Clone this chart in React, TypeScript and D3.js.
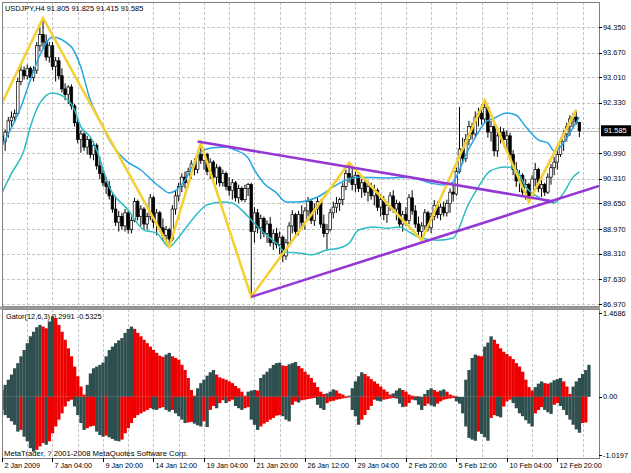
import { useEffect, useRef } from "react";
import * as d3 from "d3";

const chartTitle = "USDJPY,H4  91.805 91.825 91.415 91.585";
const gatorTitle = "Gator(12,6,3) 0.2991 -0.5325";
const copyright = "MetaTrader, ? 2001-2008 MetaQuotes Software Corp.";

// one label every 16 bars, starting at bar 0
const timeLabels = [
  "2 Jan 2009", "7 Jan 04:00", "9 Jan 20:00", "14 Jan 12:00", "19 Jan 04:00", "21 Jan 20:00",
  "26 Jan 12:00", "29 Jan 04:00", "2 Feb 20:00", "5 Feb 12:00", "10 Feb 04:00", "12 Feb 20:00",
];
const priceTicks = [94.35, 93.67, 93.01, 92.33, 91.65, 90.99, 90.31, 89.65, 88.97, 88.31, 87.63, 86.97];
const currentPrice = 91.585;
const gatorTicks = [1.4686, 0, -1.0197];

// H4 bars: [open, high, low, close]
const candles: number[][] = [
  [91.45, 91.72, 91.12, 91.30], [91.30, 91.62, 91.05, 91.55], [91.55, 91.95, 91.40, 91.85], [91.85, 92.10, 91.70, 91.95],
  [91.95, 92.15, 91.80, 92.05], [92.05, 93.00, 91.98, 92.90], [92.90, 93.35, 92.80, 93.20], [93.20, 93.30, 92.95, 93.05],
  [93.05, 93.35, 92.95, 93.25], [93.25, 93.30, 92.90, 93.00], [93.00, 93.30, 92.90, 93.20], [93.20, 93.95, 93.10, 93.85],
  [93.85, 94.35, 93.70, 94.15], [94.15, 94.59, 93.80, 93.95], [93.95, 94.15, 93.45, 93.55], [93.55, 93.95, 93.40, 93.85],
  [93.85, 93.95, 93.20, 93.30], [93.30, 93.55, 92.90, 93.45], [93.45, 93.55, 92.95, 93.05], [93.05, 93.25, 92.60, 92.70],
  [92.70, 92.85, 92.40, 92.55], [92.55, 92.80, 92.30, 92.75], [92.75, 92.82, 92.15, 92.25], [92.25, 92.30, 91.70, 91.80],
  [91.80, 91.90, 91.25, 91.35], [91.35, 91.60, 91.00, 91.50], [91.50, 91.55, 91.05, 91.15], [91.15, 91.45, 90.95, 91.35],
  [91.35, 91.40, 90.85, 90.95], [90.95, 91.30, 90.80, 91.20], [91.20, 91.25, 90.55, 90.65], [90.65, 90.90, 90.30, 90.45],
  [90.45, 90.55, 90.10, 90.20], [90.20, 90.35, 89.90, 90.10], [90.10, 90.25, 89.75, 89.85], [89.85, 89.95, 89.40, 89.50],
  [89.50, 89.80, 89.05, 89.15], [89.15, 89.45, 88.90, 89.30], [89.30, 89.40, 88.95, 89.05], [89.05, 89.50, 88.90, 89.40],
  [89.40, 89.45, 88.85, 88.95], [88.95, 89.30, 88.85, 89.20], [89.20, 89.80, 89.15, 89.70], [89.70, 89.75, 89.20, 89.30],
  [89.30, 89.60, 89.05, 89.50], [89.50, 89.55, 88.95, 89.10], [89.10, 89.40, 88.95, 89.30], [89.30, 89.90, 89.20, 89.80],
  [89.80, 89.85, 89.00, 89.15], [89.15, 89.50, 88.80, 89.40], [89.40, 89.45, 88.90, 89.00], [89.00, 89.25, 88.65, 88.80],
  [88.80, 89.05, 88.55, 88.95], [88.95, 89.00, 88.49, 88.70], [88.70, 89.60, 88.65, 89.50], [89.50, 90.00, 89.35, 89.85],
  [89.85, 90.20, 89.70, 90.10], [90.10, 90.45, 89.95, 90.35], [90.35, 90.50, 90.05, 90.20], [90.20, 90.60, 90.10, 90.50],
  [90.50, 90.80, 90.30, 90.70], [90.70, 90.85, 90.40, 90.55], [90.55, 91.05, 90.45, 90.95], [90.95, 91.26, 90.70, 90.80],
  [90.80, 91.10, 90.55, 90.95], [90.95, 91.00, 90.40, 90.50], [90.50, 90.85, 90.30, 90.75], [90.75, 90.80, 90.25, 90.35],
  [90.35, 90.70, 90.15, 90.60], [90.60, 90.65, 90.10, 90.20], [90.20, 90.55, 90.10, 90.45], [90.45, 90.50, 90.00, 90.10],
  [90.10, 90.35, 89.85, 90.00], [90.00, 90.30, 89.75, 90.20], [90.20, 90.25, 89.70, 89.80], [89.80, 90.15, 89.66, 90.05],
  [90.05, 90.10, 89.70, 89.75], [89.75, 90.15, 89.68, 90.05], [90.05, 90.20, 89.85, 90.15], [90.15, 90.20, 87.16, 88.90],
  [88.90, 89.55, 88.60, 89.40], [89.40, 89.50, 88.85, 89.00], [89.00, 89.35, 88.70, 89.25], [89.25, 89.30, 88.75, 88.85],
  [88.85, 89.20, 88.60, 89.10], [89.10, 89.29, 88.50, 88.60], [88.60, 88.95, 88.41, 88.85], [88.85, 89.00, 88.45, 88.55],
  [88.55, 88.90, 88.30, 88.75], [88.75, 88.80, 88.08, 88.25], [88.25, 88.70, 88.15, 88.60], [88.60, 89.15, 88.50, 89.05],
  [89.05, 89.47, 88.85, 89.35], [89.35, 89.40, 88.80, 88.90], [88.90, 89.45, 88.80, 89.35], [89.35, 89.60, 89.05, 89.15],
  [89.15, 89.55, 88.95, 89.45], [89.45, 89.82, 89.30, 89.70], [89.70, 89.75, 89.10, 89.20], [89.20, 89.65, 89.05, 89.50],
  [89.50, 89.80, 89.35, 89.70], [89.70, 89.75, 89.00, 89.10], [89.10, 89.35, 88.75, 88.85], [88.85, 89.10, 88.41, 88.95],
  [88.95, 89.50, 88.90, 89.40], [89.40, 89.70, 89.25, 89.55], [89.55, 89.82, 89.40, 89.65], [89.65, 89.80, 89.45, 89.75],
  [89.75, 90.20, 89.60, 90.10], [90.10, 90.55, 90.00, 90.45], [90.45, 90.73, 90.20, 90.35], [90.35, 90.60, 90.00, 90.15],
  [90.15, 90.50, 89.95, 90.40], [90.40, 90.45, 89.95, 90.05], [90.05, 90.30, 89.80, 90.20], [90.20, 90.35, 89.85, 89.95],
  [89.95, 90.25, 89.70, 90.10], [90.10, 90.20, 89.75, 89.85], [89.85, 90.15, 89.60, 90.00], [90.00, 90.05, 89.45, 89.55],
  [89.55, 89.90, 89.30, 89.75], [89.75, 89.85, 89.20, 89.35], [89.35, 89.70, 89.13, 89.60], [89.60, 89.95, 89.45, 89.85],
  [89.85, 90.00, 89.40, 89.50], [89.50, 89.75, 89.20, 89.65], [89.65, 89.70, 89.00, 89.10], [89.10, 89.45, 88.90, 89.35],
  [89.35, 89.55, 89.05, 89.20], [89.20, 89.90, 89.10, 89.80], [89.80, 90.00, 89.35, 89.45], [89.45, 89.60, 89.00, 89.10],
  [89.10, 89.30, 88.80, 88.90], [88.90, 89.15, 88.67, 89.05], [89.05, 89.50, 88.95, 89.40], [89.40, 89.45, 88.90, 89.00],
  [89.00, 89.40, 88.86, 89.30], [89.30, 89.74, 89.20, 89.60], [89.60, 89.70, 89.25, 89.35], [89.35, 89.65, 89.20, 89.55],
  [89.55, 89.70, 89.30, 89.40], [89.40, 89.75, 89.30, 89.65], [89.65, 90.05, 89.40, 89.95], [89.95, 90.15, 89.70, 89.90],
  [89.90, 90.60, 89.85, 90.50], [90.50, 92.22, 90.45, 91.10], [91.10, 91.40, 90.70, 90.85], [90.85, 91.50, 90.75, 91.35],
  [91.35, 91.85, 91.20, 91.70], [91.70, 91.80, 91.35, 91.50], [91.50, 92.10, 91.40, 91.95], [91.95, 92.20, 91.70, 92.05],
  [92.05, 92.30, 91.75, 91.90], [91.90, 92.40, 91.80, 92.20], [92.20, 92.25, 91.40, 91.55], [91.55, 91.85, 91.30, 91.70],
  [91.70, 91.75, 90.90, 91.05], [91.05, 91.60, 90.89, 91.45], [91.45, 91.69, 91.25, 91.55], [91.55, 91.65, 91.26, 91.35],
  [91.35, 91.60, 91.10, 91.45], [91.45, 91.53, 90.81, 90.95], [90.95, 91.07, 90.40, 90.55], [90.55, 90.75, 90.09, 90.25],
  [90.25, 90.54, 89.95, 90.40], [90.40, 90.45, 89.82, 89.95], [89.95, 90.30, 89.75, 90.15], [90.15, 90.20, 89.69, 89.85],
  [89.85, 90.40, 89.80, 90.30], [90.30, 90.73, 90.10, 90.55], [90.55, 90.60, 89.95, 90.05], [90.05, 90.27, 89.82, 90.15],
  [90.15, 90.20, 89.85, 89.95], [89.95, 90.45, 89.90, 90.35], [90.35, 90.70, 90.15, 90.60], [90.60, 90.89, 90.40, 90.75],
  [90.75, 91.05, 90.55, 90.95], [90.95, 91.40, 90.89, 91.30], [91.30, 91.60, 91.05, 91.50], [91.50, 91.80, 91.30, 91.70],
  [91.70, 92.00, 91.45, 91.90], [91.90, 92.06, 91.65, 91.95], [91.95, 92.14, 91.75, 91.805], [91.805, 91.825, 91.415, 91.585],
];

// smooth overlay lines, read as [bar, price]
const fastLine = [
  [0, 91.18], [1, 91.34], [6, 92.22], [9, 92.94], [12, 93.60], [16, 94.08], [22, 93.82], [25, 93.28],
  [28, 92.40], [31, 91.87], [34, 91.34], [39, 90.81], [44, 90.54], [50, 90.09], [53, 89.93], [58, 90.27],
  [61, 90.75], [63, 91.02], [67, 91.13], [71, 91.15], [74, 91.07], [78, 90.86], [80, 90.54], [83, 90.19],
  [87, 89.93], [90, 89.69], [94, 89.69], [100, 89.82], [105, 90.09], [109, 90.27], [113, 90.35], [122, 90.33],
  [129, 90.35], [136, 90.19], [140, 90.14], [143, 90.22], [145, 90.55], [147, 90.94], [149, 91.26], [151, 91.55],
  [153, 91.80], [156, 91.92], [160, 92.06], [163, 92.00], [166, 91.69], [170, 91.34], [173, 91.26], [175, 91.05],
  [178, 91.26], [180, 91.53], [183, 91.95],
];
const slowLine = [
  [0, 89.93], [3, 90.45], [7, 91.07], [9, 91.69], [12, 92.32], [16, 92.59], [21, 92.40], [23, 92.14],
  [25, 91.69], [28, 91.42], [30, 91.07], [34, 90.09], [40, 89.47], [45, 88.94], [49, 88.86], [53, 88.49],
  [56, 88.75], [61, 89.29], [65, 89.61], [70, 89.69], [73, 89.66], [76, 89.47], [79, 89.21], [82, 88.94],
  [87, 88.59], [90, 88.35], [94, 88.33], [98, 88.28], [103, 88.41], [107, 88.46], [110, 88.59], [113, 88.94],
  [118, 89.02], [122, 88.99], [126, 89.02], [129, 88.89], [132, 88.75], [138, 88.67], [143, 88.73], [145, 89.02],
  [147, 89.47], [151, 90.09], [154, 90.46], [157, 90.59], [160, 90.62], [163, 90.54], [166, 90.09], [170, 89.82],
  [173, 89.69], [175, 89.66], [178, 89.93], [181, 90.35], [183, 90.49],
];

// zigzag: an off-screen start, then swing highs / lows of the bars
const zigzagStart = [-4, 91.62];
const zigzagPivots: [number, string][] = [
  [13, "H"], [53, "L"], [63, "H"], [79, "L"], [110, "H"], [133, "L"], [153, "H"], [167, "L"], [182, "H"],
];

const trendUpper = [[62, 91.3], [175, 89.7]];
const trendLower = [[79, 87.16], [167, 89.52]];

const gatorUpper = [
  0.12, 0.21, 0.30, 0.39, 0.50, 0.59, 0.71, 0.82, 0.94, 1.06,
  1.14, 1.22, 1.26, 1.23, 1.20, 1.32, 1.41, 1.38, 1.26, 1.14,
  1.00, 0.85, 0.71, 0.53, 0.36, 0.18, 0.04, 0.21, 0.41, 0.50,
  0.53, 0.56, 0.60, 0.71, 0.82, 0.88, 0.94, 0.99, 1.03, 1.12,
  1.19, 1.23, 1.19, 1.12, 1.06, 1.00, 0.94, 0.88, 0.82, 0.77,
  0.72, 0.70, 0.74, 0.77, 0.71, 0.68, 0.65, 0.56, 0.47, 0.33,
  0.12, 0.02, 0.15, 0.24, 0.30, 0.37, 0.43, 0.47, 0.39, 0.34,
  0.32, 0.30, 0.27, 0.24, 0.19, 0.15, 0.09, 0.02, 0.09, 0.11,
  0.12, 0.11, 0.33, 0.39, 0.44, 0.50, 0.56, 0.59, 0.60, 0.55,
  0.54, 0.57, 0.59, 0.61, 0.54, 0.50, 0.44, 0.39, 0.33, 0.25,
  0.17, 0.09, 0.05, 0.06, 0.09, 0.13, 0.11, 0.06, 0.04, 0.01,
  0.02, 0.15, 0.27, 0.36, 0.43, 0.40, 0.36, 0.31, 0.27, 0.23,
  0.18, 0.13, 0.09, 0.04, 0.06, 0.11, 0.15, 0.12, 0.09, 0.04,
  0.02, 0.01, 0.01, 0.00, 0.05, 0.12, 0.15, 0.12, 0.09, 0.11,
  0.13, 0.09, 0.04, 0.02, 0.01, 0.00, 0.00, 0.30, 0.47, 0.68,
  0.74, 0.72, 0.71, 0.88, 0.95, 1.06, 1.00, 0.93, 0.85, 0.79,
  0.75, 0.71, 0.66, 0.59, 0.53, 0.44, 0.30, 0.17, 0.11, 0.17,
  0.23, 0.27, 0.24, 0.23, 0.25, 0.29, 0.31, 0.33, 0.27, 0.18,
  0.05, 0.18, 0.27, 0.33, 0.40, 0.47, 0.56,
];
const gatorLower = [
  -0.23, -0.32, -0.37, -0.43, -0.49, -0.61, -0.58, -0.70, -0.78, -0.90,
  -0.96, -0.93, -0.87, -0.81, -0.84, -0.78, -0.64, -0.52, -0.40, -0.29,
  -0.17, -0.08, -0.05, -0.17, -0.32, -0.46, -0.58, -0.55, -0.52, -0.51,
  -0.61, -0.67, -0.70, -0.68, -0.71, -0.74, -0.77, -0.78, -0.75, -0.64,
  -0.55, -0.46, -0.37, -0.32, -0.29, -0.26, -0.23, -0.20, -0.22, -0.23,
  -0.20, -0.18, -0.23, -0.26, -0.23, -0.29, -0.34, -0.40, -0.46, -0.45,
  -0.44, -0.47, -0.50, -0.52, -0.43, -0.53, -0.23, -0.16, -0.20, -0.11,
  -0.06, -0.11, -0.08, -0.05, -0.16, -0.20, -0.23, -0.20, -0.18, -0.40,
  -0.49, -0.58, -0.52, -0.47, -0.44, -0.40, -0.37, -0.33, -0.32, -0.34,
  -0.40, -0.43, -0.14, -0.08, -0.10, -0.06, -0.05, -0.04, -0.03, -0.02,
  -0.14, -0.20, -0.23, -0.11, -0.08, -0.07, -0.05, -0.04, -0.03, -0.02,
  -0.01, -0.23, -0.34, -0.49, -0.40, -0.32, -0.23, -0.16, -0.05, -0.07,
  -0.08, -0.05, -0.04, -0.03, -0.02, -0.03, -0.12, -0.18, -0.17, -0.11,
  -0.05, -0.06, -0.14, -0.23, -0.16, -0.12, -0.15, -0.17, -0.12, -0.08,
  -0.05, -0.04, -0.03, -0.02, -0.08, -0.12, -0.29, -0.52, -0.72, -0.75,
  -0.77, -0.61, -0.65, -0.71, -0.77, -0.37, -0.32, -0.34, -0.36, -0.17,
  -0.08, -0.05, -0.11, -0.20, -0.29, -0.34, -0.41, -0.47, -0.52, -0.29,
  -0.23, -0.18, -0.23, -0.27, -0.30, -0.14, -0.11, -0.16, -0.23, -0.32,
  -0.40, -0.49, -0.57, -0.63, -0.46, -0.45,
];

const W = 631;
const H = 473;
const FONT = "'Liberation Sans', Arial, sans-serif";

export default function App() {
  const svgRef = useRef<SVGSVGElement>(null);

  useEffect(() => {
    if (!svgRef.current) return;
    const svg = d3.select(svgRef.current);
    svg.selectAll("*").remove();

    const left = 2, right = 599;
    const mainTop = 2, mainBottom = 306;
    const gatorTop = 309, gatorBottom = 458;

    // scales
    const x = d3.scaleLinear().domain([0, 176]).range([2, 557.3]);
    const y = d3.scaleLinear().domain([86.97, 94.35]).range([304, 27]);
    const yg = d3.scaleLinear().domain([-1.0197, 1.4686]).range([455, 313]);
    const step = x(1) - x(0);

    svg.append("rect").attr("width", W).attr("height", H).attr("fill", "#fff");

    const defs = svg.append("defs");
    defs.append("clipPath").attr("id", "clip-main").append("rect")
      .attr("x", left).attr("y", mainTop).attr("width", right - left).attr("height", mainBottom - mainTop);
    defs.append("clipPath").attr("id", "clip-gator").append("rect")
      .attr("x", left).attr("y", gatorTop).attr("width", right - left).attr("height", gatorBottom - gatorTop);

    // grid
    const grid = svg.append("g").attr("stroke", "#c4c4c4").attr("stroke-dasharray", "3,2").attr("stroke-width", 1);
    d3.range(8, 185, 8).forEach(b => {
      const gx = Math.round(x(b)) + 0.5;
      grid.append("line").attr("x1", gx).attr("x2", gx).attr("y1", mainTop).attr("y2", mainBottom);
      grid.append("line").attr("x1", gx).attr("x2", gx).attr("y1", gatorTop).attr("y2", gatorBottom);
    });
    priceTicks.forEach(t => {
      const gy = Math.round(y(t)) + 0.5;
      grid.append("line").attr("x1", left).attr("x2", right).attr("y1", gy).attr("y2", gy);
    });

    // current price line
    svg.append("line")
      .attr("x1", left).attr("x2", right)
      .attr("y1", Math.round(y(currentPrice)) + 0.5).attr("y2", Math.round(y(currentPrice)) + 0.5)
      .attr("stroke", "#b8b8b8").attr("stroke-width", 1);

    const main = svg.append("g").attr("clip-path", "url(#clip-main)");

    svg.append("text")
      .attr("x", 5).attr("y", 11)
      .attr("font-family", FONT).attr("font-size", 7.4).attr("fill", "#000")
      .text(chartTitle);

    // candles
    const bars = main.append("g");
    candles.forEach(([o, h, l, c], i) => {
      const cx = x(i);
      bars.append("line")
        .attr("x1", cx).attr("x2", cx).attr("y1", y(h)).attr("y2", y(l))
        .attr("stroke", "#000").attr("stroke-width", 1);
      const top = y(Math.max(o, c));
      const bh = Math.max(0.8, Math.abs(y(o) - y(c)));
      bars.append("rect")
        .attr("x", cx - 1.3).attr("y", top).attr("width", 2.6).attr("height", bh)
        .attr("fill", c >= o ? "#fff" : "#000")
        .attr("stroke", "#000").attr("stroke-width", 0.7);
    });

    // overlay lines
    const overlay = d3.line<number[]>()
      .x(d => x(d[0]))
      .y(d => y(d[1]))
      .curve(d3.curveMonotoneX);
    main.append("path").datum(slowLine).attr("d", overlay)
      .attr("fill", "none").attr("stroke", "#2cbcc4").attr("stroke-width", 1.5);
    main.append("path").datum(fastLine).attr("d", overlay)
      .attr("fill", "none").attr("stroke", "#25a6e2").attr("stroke-width", 1.5);

    // zigzag
    const zz = [zigzagStart, ...zigzagPivots.map(([i, t]) => [i, t === "H" ? candles[i][1] : candles[i][2]])];
    main.append("path").datum(zz)
      .attr("d", d3.line<number[]>().x(d => x(d[0])).y(d => y(d[1])))
      .attr("fill", "none").attr("stroke", "#f5d034").attr("stroke-width", 2.6)
      .attr("stroke-linejoin", "miter");

    // trend lines
    main.append("line")
      .attr("x1", x(trendUpper[0][0])).attr("y1", y(trendUpper[0][1]))
      .attr("x2", x(trendUpper[1][0])).attr("y2", y(trendUpper[1][1]))
      .attr("stroke", "#9437d4").attr("stroke-width", 2.6);
    const slope = (trendLower[1][1] - trendLower[0][1]) / (trendLower[1][0] - trendLower[0][0]);
    const endBar = x.invert(right);
    main.append("line")
      .attr("x1", x(trendLower[0][0])).attr("y1", y(trendLower[0][1]))
      .attr("x2", x(endBar)).attr("y2", y(trendLower[0][1] + slope * (endBar - trendLower[0][0])))
      .attr("stroke", "#9437d4").attr("stroke-width", 2.6);

    // gator pane
    svg.append("text")
      .attr("x", 6).attr("y", 319)
      .attr("font-family", FONT).attr("font-size", 7.4).attr("fill", "#000")
      .text(gatorTitle);

    const gator = svg.append("g").attr("clip-path", "url(#clip-gator)");
    const dark = "#2f4f4f", red = "#ee0000";
    const y0 = yg(0);
    gatorUpper.forEach((v, i) => {
      const up = i === 0 || v > gatorUpper[i - 1];
      gator.append("rect")
        .attr("x", x(i) - step / 2).attr("width", step + 0.15)
        .attr("y", yg(v)).attr("height", y0 - yg(v))
        .attr("fill", up ? dark : red);
    });
    gatorLower.forEach((v, i) => {
      const up = i === 0 || Math.abs(v) > Math.abs(gatorLower[i - 1]);
      gator.append("rect")
        .attr("x", x(i) - step / 2).attr("width", step + 0.15)
        .attr("y", y0).attr("height", yg(v) - y0)
        .attr("fill", up ? dark : red);
    });

    svg.append("text")
      .attr("x", 4).attr("y", 456)
      .attr("font-family", FONT).attr("font-size", 7.7).attr("fill", "#000")
      .text(copyright);

    // frames
    svg.append("rect").attr("x", left + 0.5).attr("y", mainTop + 0.5)
      .attr("width", right - left).attr("height", mainBottom - mainTop)
      .attr("fill", "none").attr("stroke", "#808080");
    svg.append("rect").attr("x", left + 0.5).attr("y", gatorTop + 0.5)
      .attr("width", right - left).attr("height", gatorBottom - gatorTop)
      .attr("fill", "none").attr("stroke", "#808080");
    svg.append("rect").attr("x", 0).attr("y", mainBottom + 0.5).attr("width", right + 1).attr("height", gatorTop - mainBottom)
      .attr("fill", "#9a9a9a");

    // price axis
    const axis = svg.append("g").attr("font-family", FONT).attr("font-size", 7.4).attr("fill", "#000");
    priceTicks
      .filter(t => Math.abs(y(t) - y(currentPrice)) > 8)
      .forEach(t => {
        axis.append("line").attr("x1", right).attr("x2", right + 3)
          .attr("y1", Math.round(y(t)) + 0.5).attr("y2", Math.round(y(t)) + 0.5).attr("stroke", "#000");
        axis.append("text").attr("x", 603).attr("y", y(t)).attr("dy", "0.35em").text(t.toFixed(3));
      });
    gatorTicks.forEach(t => {
      axis.append("line").attr("x1", right).attr("x2", right + 3)
        .attr("y1", Math.round(yg(t)) + 0.5).attr("y2", Math.round(yg(t)) + 0.5).attr("stroke", "#000");
      axis.append("text").attr("x", 603).attr("y", yg(t)).attr("dy", "0.35em")
        .text(t === 0 ? "0.00" : t.toFixed(4));
    });

    // current price tag
    const cy = y(currentPrice);
    svg.append("rect").attr("x", 601).attr("y", cy - 5.5).attr("width", 30).attr("height", 11).attr("fill", "#000");
    svg.append("text").attr("x", 604).attr("y", cy).attr("dy", "0.35em")
      .attr("font-family", FONT).attr("font-size", 7.4).attr("fill", "#fff")
      .text(currentPrice.toFixed(3));

    // time axis
    const time = svg.append("g").attr("font-family", FONT).attr("font-size", 7.2).attr("fill", "#000");
    timeLabels.forEach((label, k) => {
      const tx = Math.round(x(k * 16)) + 0.5;
      time.append("line").attr("x1", tx).attr("x2", tx).attr("y1", gatorBottom).attr("y2", gatorBottom + 4)
        .attr("stroke", "#000");
      time.append("text").attr("x", tx + 2).attr("y", 468).text(label);
    });
  }, []);

  return (
    <div style={{ position: "absolute", left: 0, top: 0 }}>
      <svg ref={svgRef} width={W} height={H} viewBox={`0 0 ${W} ${H}`} style={{ display: "block" }} />
    </div>
  );
}
